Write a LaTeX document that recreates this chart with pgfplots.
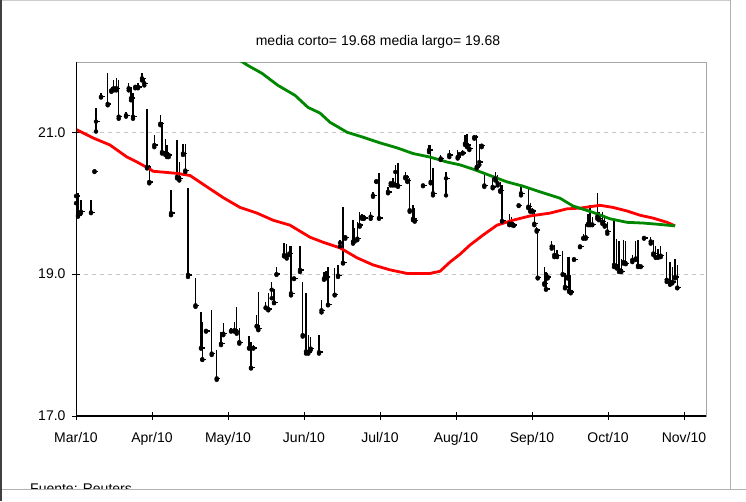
\documentclass[border=0pt]{standalone}
\usepackage{pgfplots}
\pgfplotsset{compat=1.18}
\usepackage{pgfplotstable}
\usepackage{fontspec}
\setmainfont{Liberation Sans}
\definecolor{mared}{RGB}{255,0,0}
\definecolor{magreen}{RGB}{0,135,0}

% x = horizontal position (1 unit = 1 px, 76 units per month from Mar/10)
\pgfplotstableread{
x hi lo cl
0 20.35 20.00 20.10
2 20.14 19.81 19.83
5 20.04 19.86 19.88
15 20.04 19.86 19.87
18.5 20.46 20.44 20.45
20 21.34 21.01 21.15
25 21.55 21.49 21.50
31.7 21.83 21.38 21.40
35.3 21.64 21.57 21.59
37.7 21.73 21.59 21.62
40.3 21.76 21.59 21.62
42.7 21.73 21.19 21.22
50 21.29 21.22 21.24
52.7 21.69 21.59 21.62
55 21.64 21.45 21.48
57 21.55 21.19 21.22
59.3 21.66 21.62 21.64
62 21.69 21.62 21.64
66 21.83 21.73 21.76
68.3 21.76 21.66 21.69
71 21.33 20.49 20.51
73.3 20.54 20.28 20.30
78.3 20.96 20.79 20.82
84.3 21.24 21.10 21.12
86 21.15 20.70 20.72
89.3 20.91 20.68 20.70
91 20.82 20.65 20.67
92.7 20.72 20.65 20.68
95 20.18 19.83 19.86
101 20.89 20.35 20.37
103.3 20.58 20.32 20.35
107 20.84 20.68 20.70
109.3 20.84 20.44 20.46
112 20.21 18.96 18.99
119.5 18.94 18.54 18.56
125 18.47 17.95 17.96
126.3 18.33 17.79 17.80
130 18.21 18.19 18.20
135.7 18.49 17.86 17.88
140.7 17.93 17.51 17.53
145 18.19 18.00 18.02
147.3 18.31 18.14 18.16
155 18.24 18.19 18.20
158.3 18.33 18.19 18.21
160.7 18.54 18.16 18.19
163.3 18.24 18.02 18.04
173 18.13 17.95 17.96
175 18.05 17.67 17.68
177.3 18.00 17.95 17.96
180.7 18.42 18.26 18.27
182.3 18.75 18.21 18.23
189.7 18.61 18.52 18.53
192.3 18.73 18.49 18.51
195.7 18.89 18.66 18.78
198 18.77 18.59 18.60
200.5 19.10 18.99 19.00
208 19.44 19.25 19.27
210.7 19.43 19.22 19.25
213.3 19.39 19.27 19.29
215 19.39 18.70 18.73
218 18.95 18.93 18.94
224 19.39 19.03 19.06
226.7 18.89 18.12 18.14
230 18.73 17.88 17.91
232.3 18.14 17.88 17.90
234.7 18.12 17.93 17.95
243 18.14 17.88 17.90
245.5 18.63 18.46 18.49
248 19.03 18.92 18.94
250 19.05 18.94 18.96
252 19.10 18.56 18.57
258.7 19.08 18.70 18.71
262 19.13 18.96 18.98
264 19.48 19.39 19.44
267 19.95 19.15 19.16
269.3 19.55 19.50 19.52
277 19.76 19.43 19.46
278.7 19.65 19.46 19.47
281.3 19.74 19.48 19.50
283.7 19.88 19.67 19.69
286 19.85 19.78 19.81
288 19.83 19.78 19.79
294.7 19.88 19.78 19.81
297 20.16 20.09 20.11
300.3 20.33 20.30 20.31
303 20.42 19.78 19.79
312 20.23 20.14 20.16
314.7 20.30 20.25 20.28
317 20.35 20.25 20.28
319.3 20.54 20.25 20.44
322 20.56 20.23 20.25
329.3 20.44 20.35 20.37
331.3 20.40 20.30 20.32
333.7 20.35 19.88 19.90
337 19.97 19.76 19.78
338.7 19.93 19.74 19.76
347 20.26 20.24 20.25
353 20.82 20.72 20.75
354.7 20.82 20.28 20.30
357 20.49 20.11 20.14
364.7 20.68 20.61 20.63
370 20.44 20.11 20.35
373.3 20.75 20.65 20.68
381.7 20.75 20.63 20.65
383.3 20.70 20.68 20.69
386.7 20.75 20.70 20.71
389 20.96 20.82 20.84
391 20.98 20.79 20.82
393.3 20.84 20.75 20.77
398.3 20.96 20.91 20.93
400.7 20.96 20.49 20.51
403.3 20.84 20.54 20.58
405.7 20.82 20.79 20.81
408.3 20.44 20.23 20.25
416.7 20.37 20.21 20.23
419.3 20.44 20.32 20.35
421.7 20.40 20.25 20.28
424.3 20.30 20.16 20.18
426 20.25 19.74 19.75
433.3 19.85 19.69 19.71
435.7 19.81 19.69 19.71
437.7 19.74 19.68 19.69
442.7 19.98 19.96 19.97
445 20.23 20.11 20.14
452.3 20.23 19.93 19.95
454.3 20.00 19.88 19.90
456.7 19.93 19.88 19.89
458.3 19.88 19.69 19.71
460.7 19.67 19.60 19.62
461.7 19.64 18.94 18.95
468.3 19.10 18.85 18.87
470 19.03 18.78 18.79
471.7 19.01 18.94 18.96
475.7 19.46 19.36 19.39
478.3 19.41 19.24 19.27
481 19.34 19.24 19.26
486.7 19.32 18.99 19.00
489 18.99 18.80 18.82
491.3 19.24 18.94 18.96
493 19.24 18.75 18.77
494.7 18.99 18.73 18.75
498 19.22 19.20 19.21
504 19.40 19.38 19.39
507.3 19.57 19.50 19.51
509.7 19.70 19.50 19.52
512 19.85 19.69 19.71
514 19.97 19.69 19.70
516.3 19.81 19.69 19.70
521.3 20.14 19.78 19.81
523 19.88 19.76 19.78
526.3 19.88 19.71 19.74
528.7 19.81 19.67 19.69
531.3 19.74 19.57 19.60
538 19.76 19.10 19.13
540.7 19.50 19.08 19.10
543 19.46 19.03 19.06
545.3 19.22 19.03 19.04
547.3 19.48 19.15 19.17
549.7 19.46 19.14 19.15
556.3 19.27 19.17 19.20
559.7 19.46 19.20 19.22
562 19.48 19.10 19.12
564.7 19.13 19.10 19.11
568 19.52 19.50 19.51
574.7 19.53 19.43 19.46
577.3 19.48 19.27 19.29
579.7 19.39 19.23 19.24
582 19.36 19.23 19.24
584.7 19.39 19.24 19.26
590.7 19.31 18.89 18.92
594 19.17 18.85 18.87
596.3 19.10 18.87 18.89
599 19.22 18.94 18.96
601.3 19.13 18.80 18.81
}\bars

\pgfplotstableread{
x y
0 21.04
17 20.92
34 20.82
51 20.65
61 20.58
74 20.48
77 20.45
101 20.42
114 20.39
131 20.23
147 20.08
164 19.94
181 19.86
197 19.76
214 19.69
234 19.52
247 19.45
264 19.37
281 19.23
297 19.13
314 19.06
331 19.01
354 19.01
364 19.04
374 19.17
384 19.28
394 19.41
407 19.55
421 19.69
437 19.76
454 19.82
474 19.86
491 19.92
504 19.93
524 19.97
537 19.94
551 19.89
564 19.83
577 19.79
591 19.73
599 19.68
}\corto

\pgfplotstableread{
x y
160 22.05
172 21.94
186 21.83
202 21.66
219 21.52
232 21.35
244 21.27
254 21.14
271 21.00
287 20.93
304 20.85
321 20.78
337 20.70
354 20.65
371 20.58
384 20.54
397 20.48
414 20.39
431 20.30
447 20.24
464 20.16
484 20.07
497 19.96
517 19.87
534 19.78
551 19.73
567 19.72
584 19.70
599 19.68
}\largo

\begin{document}
\begin{tikzpicture}[x=1pt,y=1pt]
\useasboundingbox (0,0) rectangle (746,501);
\begin{axis}[
  at={(76pt,85pt)}, anchor=south west,
  scale only axis, width=630pt, height=354pt,
  xmin=0, xmax=630, ymin=17, ymax=21.99,
  xtick={0,76,152,228,304,380,456,532,608},
  xticklabels={Mar/10,Apr/10,May/10,Jun/10,Jul/10,Aug/10,Sep/10,Oct/10,Nov/10},
  ytick={17,19,21},
  yticklabels={17.0,19.0,21.0},
  tick pos=left,
  tick align=center,
  major tick length=8pt,
  tick style={black, line width=1pt},
  ticklabel style={font=\fontsize{14}{16}\selectfont},
  x tick label style={yshift=-9pt},
  y tick label style={xshift=-3pt},
  axis line style={draw=gray!70, line width=1pt},
  ymajorgrids,
  grid style={gray!45, line width=1pt, dash pattern=on 4pt off 4pt},
  clip=true,
]
\addplot[black, only marks, mark=none,
  error bars/.cd, y dir=plus, y explicit, error mark=none,
  error bar style={black, line width=1.3pt, line cap=butt}]
  table[x=x, y=lo, y error expr=\thisrow{hi}-\thisrow{lo}] {\bars};
\addplot[black, only marks, mark=none,
  error bars/.cd, x dir=plus, x fixed=3.5, error mark=none,
  error bar style={black, line width=1.4pt, line cap=butt}]
  table[x=x, y=cl] {\bars};
\addplot[mared, line width=2.8pt, line join=round, mark=none] table[x=x, y=y] {\corto};
\addplot[magreen, line width=2.8pt, line join=round, mark=none] table[x=x, y=y] {\largo};
\draw[black, line width=1.2pt] (rel axis cs:0,1) -- (rel axis cs:0,0) -- (rel axis cs:1,0);
\end{axis}
\node[font=\fontsize{14}{16}\selectfont] at (378,459) {media corto= 19.68 media largo= 19.68};
\node[font=\fontsize{14}{16}\selectfont, anchor=base west, inner sep=0pt] at (30,8) {Fuente: Reuters};
\fill[white] (0,0) rectangle (746,11.5);
\draw[gray!60, line width=1pt] (0,12) -- (746,12);
\draw[gray!60, line width=1pt] (730,12) -- (730,501);
\draw[gray!40, line width=1pt] (0,500.5) -- (730,500.5);
\draw[black!75, line width=1.5pt] (1,0) -- (1,501);
\end{tikzpicture}
\end{document}
